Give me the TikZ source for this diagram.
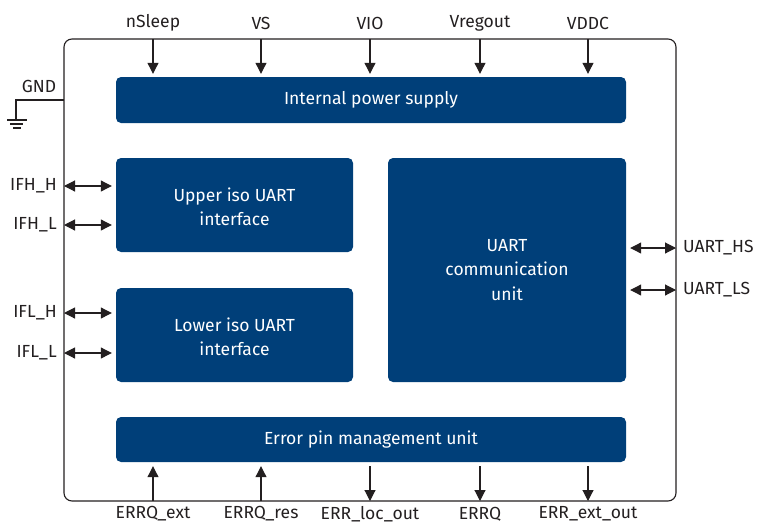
\documentclass[tikz,border=0pt]{standalone}
\usepackage{fontspec}
\setmainfont{Fira Sans}
\definecolor{ifxblue}{RGB}{0, 63, 121}
\definecolor{lineblack}{RGB}{35, 31, 32}
\usetikzlibrary{arrows.meta, positioning, calc}

\begin{document}
\begin{tikzpicture}[x=1pt, y=-1pt,
        arr/.style={-{Triangle[length=11pt, width=11pt]}, line width=1.1pt, draw=lineblack},
        both/.style={{Triangle[length=11pt, width=11pt]}-{Triangle[length=11pt, width=11pt]}, line width=1.1pt, draw=lineblack},
        blk/.style={fill=ifxblue, rounded corners=5pt, text=white, align=center,
                    inner sep=0pt, font=\fontsize{17.5}{24.5}\selectfont},
        pin/.style={font=\fontsize{17.5}{20}\selectfont, text=lineblack, inner sep=0pt}
      ]
        \useasboundingbox (0,0) rectangle (760,523);

        % outer frame
        \node[draw=lineblack, line width=1.1pt, rounded corners=8pt, minimum width=612pt,
              minimum height=462pt, inner sep=0pt] (chip) at (370,270) {};

        % blocks
        \node[blk, minimum width=510pt, minimum height=46pt] (power) at (371,100)
              {Internal power supply};
        \node[blk, minimum width=237pt, minimum height=94pt] (upper) at (234.5,205)
              {\strut Upper iso UART\\interface};
        \node[blk, minimum width=237pt, minimum height=94pt] (lower) at (234.5,335)
              {\strut Lower iso UART\\interface};
        \node[blk, minimum width=238pt, minimum height=224pt] (uart) at (507,270)
              {UART\\communication\\unit};
        \node[blk, minimum width=510pt, minimum height=45pt] (error) at (371,439.5)
              {Error pin management unit};

        % supply pins
        \foreach \name/\x/\txt in {nsleep/153/nSleep, vs/261/VS, vio/370/VIO,
                                   vregout/480/Vregout, vddc/588/VDDC} {
          \coordinate (\name) at (\x,39);
          \node[pin] (\name-lbl) at (\x,23) {\txt};
          \draw[arr, shorten >=3pt] (\name) -- (\name |- power.north);
        }

        % error pins
        \foreach \name/\x/\txt in {errqext/153/ERRQ\_ext, errqres/261/ERRQ\_res} {
          \coordinate (\name) at (\x,501);
          \node[pin] (\name-lbl) at (\x,514) {\txt};
          \draw[arr, shorten >=4pt] (\name) -- (\name |- error.south);
        }
        \foreach \name/\x/\txt in {errloc/370/ERR\_loc\_out, errq/480/ERRQ,
                                   errext/588/ERR\_ext\_out} {
          \coordinate (\name) at (\x,501);
          \node[pin] (\name-lbl) at (\x,514) {\txt};
          \coordinate (\name-src) at (\x,466);
          \draw[arr] (\name-src) -- (\name);
        }

        % iso interface pins
        \foreach \name/\y/\txt in {ifhh/186/IFH\_H, ifhl/225/IFH\_L,
                                   iflh/313/IFL\_H, ifll/353/IFL\_L} {
          \coordinate (\name) at (64,\y);
          \node[pin, anchor=east] (\name-lbl) at (57,\y) {\txt};
          \draw[both, shorten >=4pt] (\name) -- (\name -| upper.west);
        }

        % uart pins
        \foreach \name/\y/\txt in {uarths/248/UART\_HS, uartls/290/UART\_LS} {
          \coordinate (\name) at (676,\y);
          \node[pin, anchor=west] (\name-lbl) at (683,\y) {\txt};
          \draw[both, shorten >=4pt] (\name) -- (\name -| uart.east);
        }

        % ground
        \coordinate (gnd) at (64,100);
        \coordinate (gndtop) at (16,120);
        \node[pin] (gnd-lbl) at (39,86) {GND};
        \draw[line width=1.1pt, lineblack] (gnd) -| (gndtop);
        \draw[line width=1.1pt, lineblack] ($(gndtop)+(-9,0)$) -- ($(gndtop)+(11,0)$)
              ($(gndtop)+(-6,4)$) -- ($(gndtop)+(7,4)$)
              ($(gndtop)+(-3,8)$) -- ($(gndtop)+(5,8)$);
      \end{tikzpicture}
\end{document}
